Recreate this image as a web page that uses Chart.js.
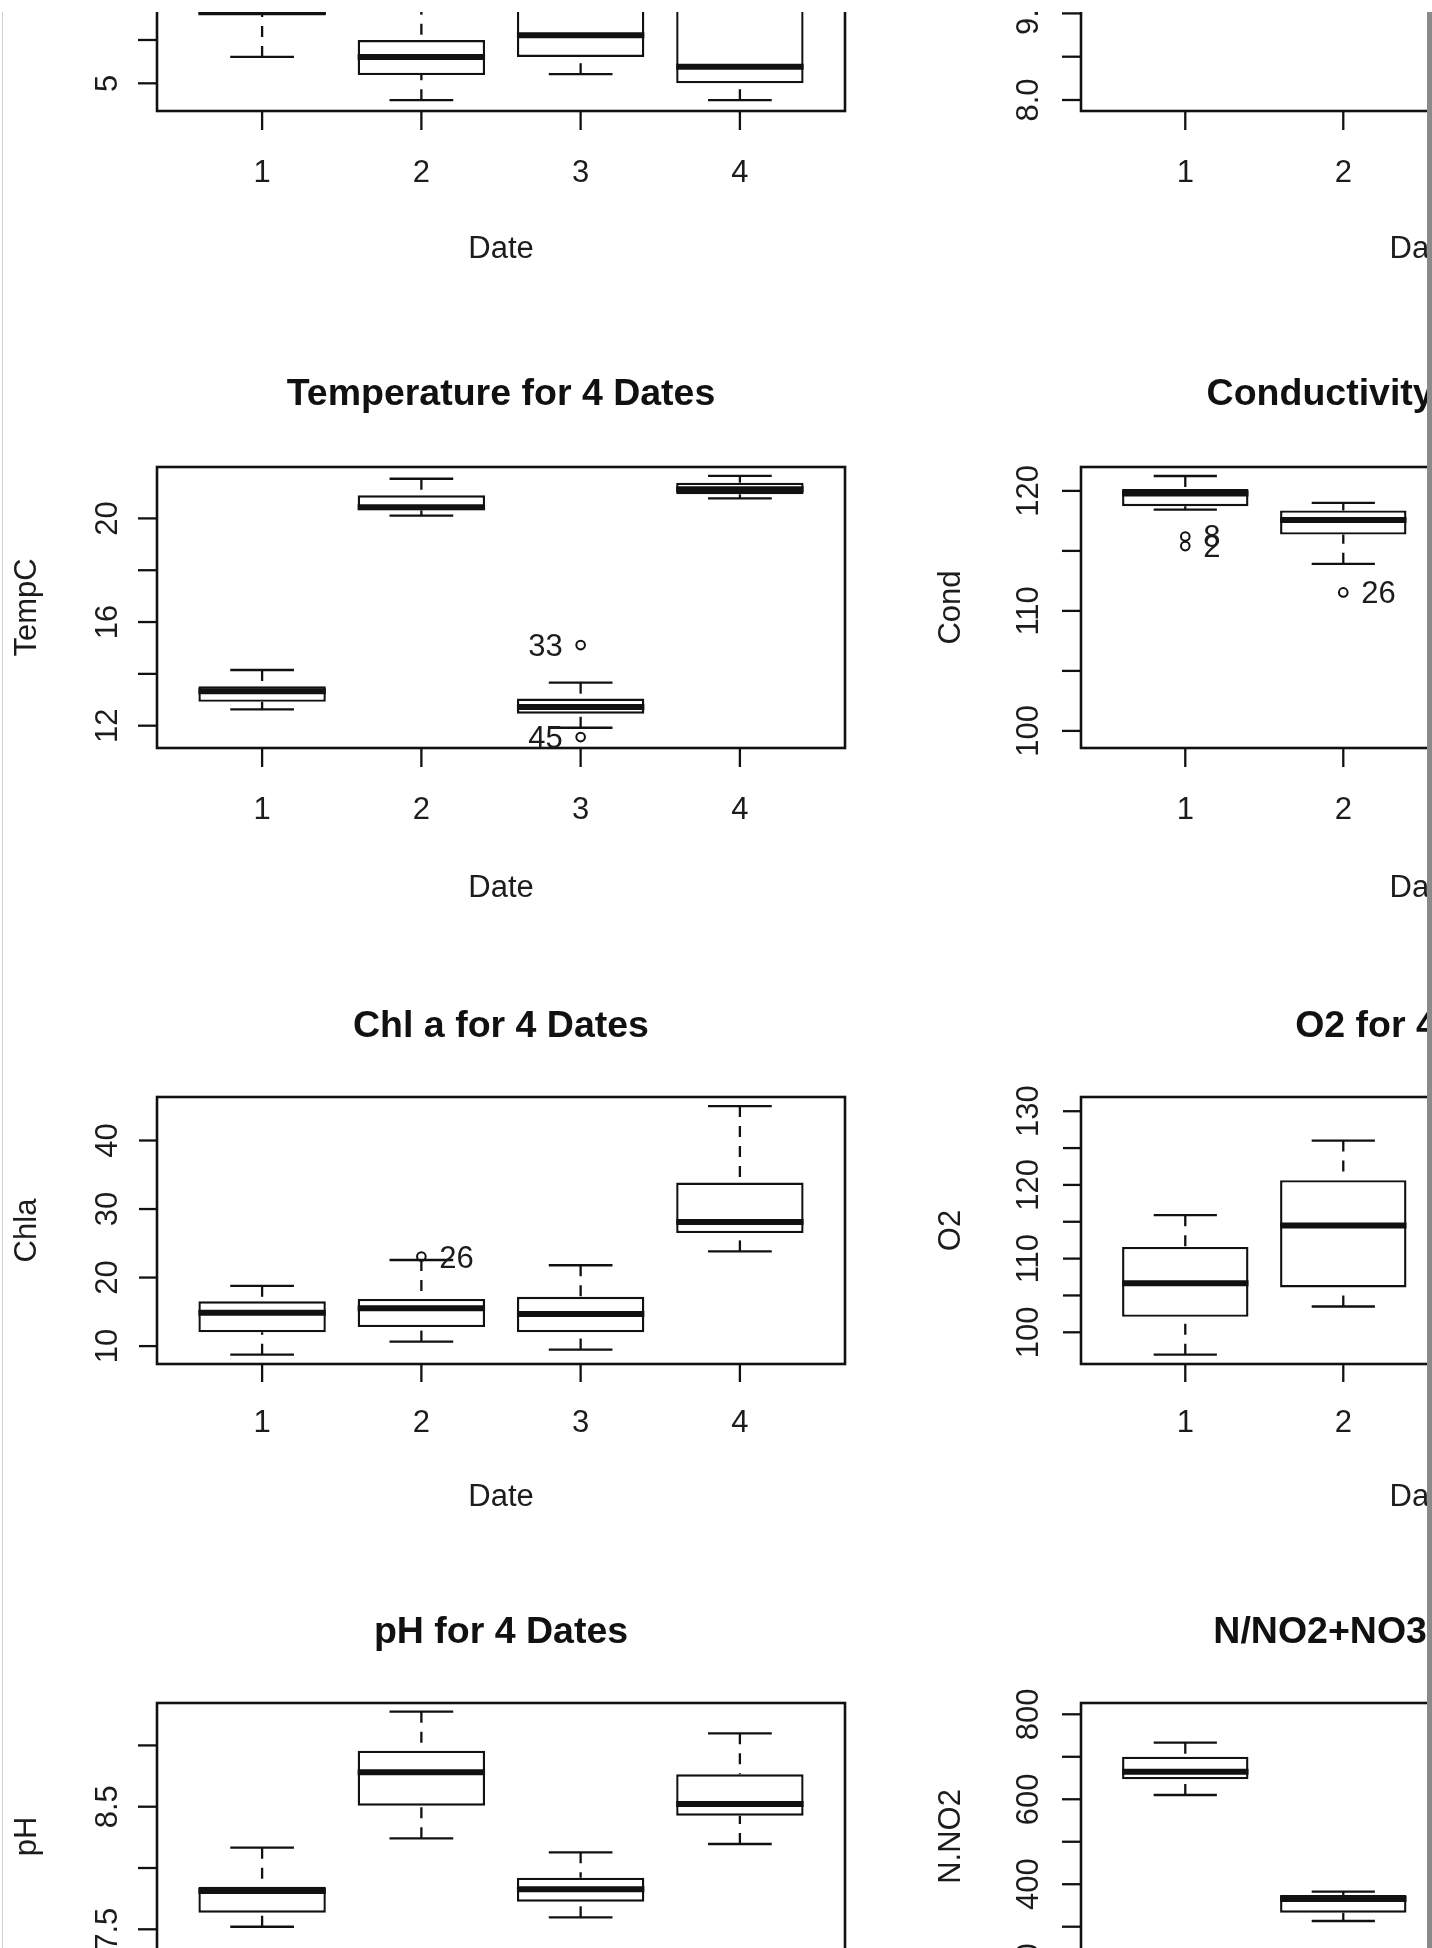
<!DOCTYPE html>
<html>
<head>
<meta charset="utf-8">
<script src="https://cdn.jsdelivr.net/npm/chart.js@4.4.1/dist/chart.umd.min.js"></script>
<style>
  html, body { margin: 0; padding: 0; background: #fff; }
  body { width: 1432px; height: 1948px; position: relative; overflow: hidden; }
  canvas { position: absolute; }
  .mask-top { position: absolute; left: 0; top: 0; width: 1432px; height: 12px; background: #fff; z-index: 5; }
  .edge-left { position: absolute; left: 2px; top: 12px; width: 1px; height: 1936px; background: #cfcfcf; z-index: 5; }
  .edge-right { position: absolute; left: 1427px; top: 12px; width: 5px; height: 1936px; background: #8a8a8a; z-index: 5; }
</style>
</head>
<body>
<div class="mask-top"></div>
<div class="edge-left"></div>
<div class="edge-right"></div>
<script>
// Boxplots per sampling date.
// Each stats row is [min, q1, median, q3, max] for one date.
const dates = [1, 2, 3, 4];
const dateLabels = ['1', '2', '3', '4'];

// top row, only the bottom strip is visible (upper parts estimated)
const topLeftStats = [
    [5.61, 6.60, 6.64, 8.40, 9.90],
    [4.61, 5.19, 5.61, 6.00, 7.30],
    [5.21, 5.61, 6.11, 7.40, 8.60],
    [4.61, 5.00, 5.38, 8.00, 10.40]
];
const topLeftTicks = [5, 6, 7, 8, 9, 10];
const topLeftTickLabels = ['5', '', '7', '', '9', ''];
const topLeftRange = [4.361, 10.847];

const topRightStats = [];
const topRightTicks = [8, 8.5, 9, 9.5, 10, 10.5, 11];
const topRightTickLabels = ['8.0', '', '9.0', '', '10.0', '', '11.0'];
const topRightRange = [7.873, 11.118];

// Temperature
const tempStats = [
    [12.63, 12.92, 13.33, 13.52, 14.15],
    [20.11, 20.31, 20.43, 20.89, 21.53],
    [11.92, 12.46, 12.72, 13.05, 13.66],
    [20.77, 20.93, 21.13, 21.38, 21.64]
];
const tempOutliers = [[3, 15.11, '33'], [3, 11.56, '45']];
const tempTicks = [12, 14, 16, 18, 20];
const tempTickLabels = ['12', '', '16', '', '20'];
const tempRange = [11.139, 21.984];

// Conductivity (dates 3 and 4 are off the picture)
const condStats = [
    [118.43, 118.72, 119.78, 120.15, 121.24],
    [113.92, 116.36, 117.57, 118.37, 119.00]
];
const condOutliers = [[1, 116.2, '8'], [1, 115.4, '2'], [2, 111.54, '26']];
const condTicks = [100, 105, 110, 115, 120];
const condTickLabels = ['100', '', '110', '', '120'];
const condRange = [98.575, 121.99];

// Chl a
const chlStats = [
    [8.75, 12.01, 14.87, 16.54, 18.80],
    [10.66, 12.77, 15.53, 16.89, 22.56],
    [9.50, 12.01, 14.68, 17.19, 21.80],
    [23.82, 26.49, 28.09, 33.87, 45.02]
];
const chlOutliers = [[2, 23.07, '26']];
const chlTicks = [10, 20, 30, 40];
const chlTickLabels = ['10', '20', '30', '40'];
const chlRange = [7.388, 46.347];

// O2
const o2Stats = [
    [96.96, 102.10, 106.64, 111.59, 115.89],
    [103.50, 106.08, 114.48, 120.65, 126.02]
];
const o2Ticks = [100, 105, 110, 115, 120, 125, 130];
const o2TickLabels = ['100', '', '110', '', '120', '', '130'];
const o2Range = [95.699, 131.93];

// pH
const phStats = [
    [7.521, 7.635, 7.812, 7.847, 8.166],
    [8.242, 8.508, 8.781, 8.957, 9.275],
    [7.598, 7.725, 7.826, 7.921, 8.128],
    [8.196, 8.427, 8.522, 8.764, 9.099]
];
const phTicks = [7.5, 8, 8.5, 9];
const phTickLabels = ['7.5', '', '8.5', ''];
const phRange = [7.168, 9.346];

// N/NO2+NO3
const no2Stats = [
    [610.0, 647.0, 665.0, 700.2, 733.1],
    [313.4, 333.0, 365.0, 374.6, 382.4]
];
const no2Ticks = [200, 300, 400, 500, 600, 700, 800];
const no2TickLabels = ['200', '', '400', '', '600', '', '800'];
const no2Range = [198.1, 826.6];

// ---- layout ----
const INK = '#111111';
const TEXT = '#1c1c1c';
const FONT = '"Liberation Sans", Arial, Helvetica, sans-serif';
const X_RANGE = [0.34, 4.66];

const cols = [
    { plotLeft: 157, unit: 159.26, tickLabel: 40, yTitle: 121 },
    { plotLeft: 1081, unit: 158, tickLabel: 43, yTitle: 121 }
];
const rows = [
    { top: -170, height: 281, xLabel: 70.7, xTitle: 147, title: 62, tick: 19 },
    { top: 467, height: 281, xLabel: 71, xTitle: 149, title: 62, tick: 19 },
    { top: 1097, height: 267, xLabel: 68, xTitle: 142, title: 60, tick: 18 },
    { top: 1703, height: 267, xLabel: 70, xTitle: 146, title: 60.5, tick: 19 }
];

const panels = [
    { col: 0, row: 0, title: '', ylab: '', stats: topLeftStats, outliers: [], sides: [],
      ticks: topLeftTicks, tickLabels: topLeftTickLabels, range: topLeftRange },
    { col: 1, row: 0, title: '', ylab: '', stats: topRightStats, outliers: [], sides: [],
      ticks: topRightTicks, tickLabels: topRightTickLabels, range: topRightRange },
    { col: 0, row: 1, title: 'Temperature for 4 Dates', ylab: 'TempC', stats: tempStats,
      outliers: tempOutliers, sides: ['left', 'left'],
      ticks: tempTicks, tickLabels: tempTickLabels, range: tempRange },
    { col: 1, row: 1, title: 'Conductivity for 4 Dates', ylab: 'Cond', stats: condStats,
      outliers: condOutliers, sides: ['right', 'right', 'right'],
      ticks: condTicks, tickLabels: condTickLabels, range: condRange },
    { col: 0, row: 2, title: 'Chl a for 4 Dates', ylab: 'Chla', stats: chlStats,
      outliers: chlOutliers, sides: ['right'],
      ticks: chlTicks, tickLabels: chlTickLabels, range: chlRange },
    { col: 1, row: 2, title: 'O2 for 4 Dates', ylab: 'O2', stats: o2Stats, outliers: [], sides: [],
      ticks: o2Ticks, tickLabels: o2TickLabels, range: o2Range },
    { col: 0, row: 3, title: 'pH for 4 Dates', ylab: 'pH', stats: phStats, outliers: [], sides: [],
      ticks: phTicks, tickLabels: phTickLabels, range: phRange },
    { col: 1, row: 3, title: 'N/NO2+NO3 for 4 Dates', ylab: 'N.NO2', stats: no2Stats, outliers: [], sides: [],
      ticks: no2Ticks, tickLabels: no2TickLabels, range: no2Range }
];

function seg(ctx, x1, y1, x2, y2) {
    ctx.beginPath();
    ctx.moveTo(x1, y1);
    ctx.lineTo(x2, y2);
    ctx.stroke();
}

function upText(ctx, text, x, y) {
    ctx.save();
    ctx.translate(x, y);
    ctx.rotate(-Math.PI / 2);
    ctx.textAlign = 'center';
    ctx.fillText(text, 0, 0);
    ctx.restore();
}

// R style box plot parts: whiskers, medians, frame, axes and labels
function makeRBox(p, col, row) {
    return {
        id: 'rbox',
        beforeDatasetsDraw(chart) {
            const { ctx } = chart;
            const x = chart.scales.x, y = chart.scales.y;
            ctx.save();
            ctx.strokeStyle = INK;
            ctx.lineWidth = 2.3;
            ctx.lineCap = 'butt';
            p.stats.forEach((s, i) => {
                const d = dates[i];
                const cx = x.getPixelForValue(d);
                const a = x.getPixelForValue(d - 0.2), b = x.getPixelForValue(d + 0.2);
                ctx.setLineDash([11, 9]);
                seg(ctx, cx, y.getPixelForValue(s[4]), cx, y.getPixelForValue(s[3]));
                seg(ctx, cx, y.getPixelForValue(s[0]), cx, y.getPixelForValue(s[1]));
                ctx.setLineDash([]);
                seg(ctx, a, y.getPixelForValue(s[4]), b, y.getPixelForValue(s[4]));
                seg(ctx, a, y.getPixelForValue(s[0]), b, y.getPixelForValue(s[0]));
            });
            ctx.restore();
        },
        afterDatasetsDraw(chart) {
            const { ctx } = chart;
            const x = chart.scales.x, y = chart.scales.y;
            ctx.save();
            ctx.strokeStyle = INK;
            ctx.lineWidth = 6;
            p.stats.forEach((s, i) => {
                const d = dates[i];
                const ym = y.getPixelForValue(s[2]);
                seg(ctx, x.getPixelForValue(d - 0.4), ym, x.getPixelForValue(d + 0.4), ym);
            });
            ctx.restore();
        },
        afterDraw(chart) {
            const { ctx, chartArea: area } = chart;
            const x = chart.scales.x, y = chart.scales.y;
            ctx.save();
            // frame
            ctx.strokeStyle = INK;
            ctx.lineWidth = 2.6;
            ctx.strokeRect(area.left, area.top, area.right - area.left, area.bottom - area.top);

            ctx.lineWidth = 2.3;
            ctx.fillStyle = TEXT;
            ctx.font = '31px ' + FONT;

            // y axis
            p.ticks.forEach((v, i) => {
                if (v < p.range[0] || v > p.range[1]) return;
                const yp = y.getPixelForValue(v);
                seg(ctx, area.left - row.tick, yp, area.left, yp);
                if (p.tickLabels[i]) upText(ctx, p.tickLabels[i], area.left - col.tickLabel, yp);
            });

            // x axis
            ctx.textAlign = 'center';
            dates.forEach((d, i) => {
                const xp = x.getPixelForValue(d);
                seg(ctx, xp, area.bottom, xp, area.bottom + row.tick);
                ctx.fillText(dateLabels[i], xp, area.bottom + row.xLabel);
            });
            const midX = (area.left + area.right) / 2;
            ctx.fillText('Date', midX, area.bottom + row.xTitle);

            // y title
            if (p.ylab) upText(ctx, p.ylab, area.left - col.yTitle, (area.top + area.bottom) / 2);

            // outlier labels
            p.outliers.forEach((o, i) => {
                const xp = x.getPixelForValue(o[0]);
                const yp = y.getPixelForValue(o[1]) + 11;
                if (p.sides[i] === 'left') {
                    ctx.textAlign = 'right';
                    ctx.fillText(o[2], xp - 18, yp);
                } else {
                    ctx.textAlign = 'left';
                    ctx.fillText(o[2], xp + 18, yp);
                }
            });

            // main title
            if (p.title) {
                ctx.font = 'bold 37.5px ' + FONT;
                ctx.textAlign = 'center';
                ctx.fillStyle = '#111';
                ctx.fillText(p.title, midX, area.top - row.title);
            }
            ctx.restore();
        }
    };
}

panels.forEach(p => {
    const col = cols[p.col], row = rows[p.row];
    const padL = 157, padT = 110, padB = 175;
    const plotW = col.unit * (X_RANGE[1] - X_RANGE[0]);
    const w = Math.ceil(padL + plotW + 24);
    const h = padT + row.height + padB;

    const cv = document.createElement('canvas');
    cv.width = w;
    cv.height = h;
    cv.style.width = w + 'px';
    cv.style.height = h + 'px';
    cv.style.left = (col.plotLeft - padL) + 'px';
    cv.style.top = (row.top - padT) + 'px';
    document.body.appendChild(cv);

    new Chart(cv.getContext('2d'), {
        type: 'bar',
        data: {
            datasets: [{
                type: 'bar',
                data: p.stats.map((s, i) => ({ x: dates[i], y: [s[1], s[3]] })),
                backgroundColor: '#ffffff',
                borderColor: INK,
                borderWidth: 2.4,
                borderSkipped: false,
                barPercentage: 0.8,
                categoryPercentage: 1
            }, {
                type: 'scatter',
                data: p.outliers.map(o => ({ x: o[0], y: o[1] })),
                pointStyle: 'circle',
                pointRadius: 4.3,
                pointBorderWidth: 2,
                pointBorderColor: INK,
                pointBackgroundColor: 'rgba(0,0,0,0)'
            }]
        },
        options: {
            responsive: false,
            animation: false,
            devicePixelRatio: 1,
            events: [],
            layout: { padding: { left: padL, top: padT, right: w - padL - plotW, bottom: padB } },
            plugins: {
                legend: { display: false },
                tooltip: { enabled: false },
                title: { display: false }
            },
            scales: {
                x: {
                    type: 'linear',
                    min: X_RANGE[0],
                    max: X_RANGE[1],
                    offset: false,
                    display: false,
                    ticks: { stepSize: 1 },
                    afterBuildTicks: s => { s.ticks = dates.map(v => ({ value: v })); }
                },
                y: {
                    type: 'linear',
                    min: p.range[0],
                    max: p.range[1],
                    display: false
                }
            }
        },
        plugins: [makeRBox(p, col, row)]
    });
});
</script>
</body>
</html>
